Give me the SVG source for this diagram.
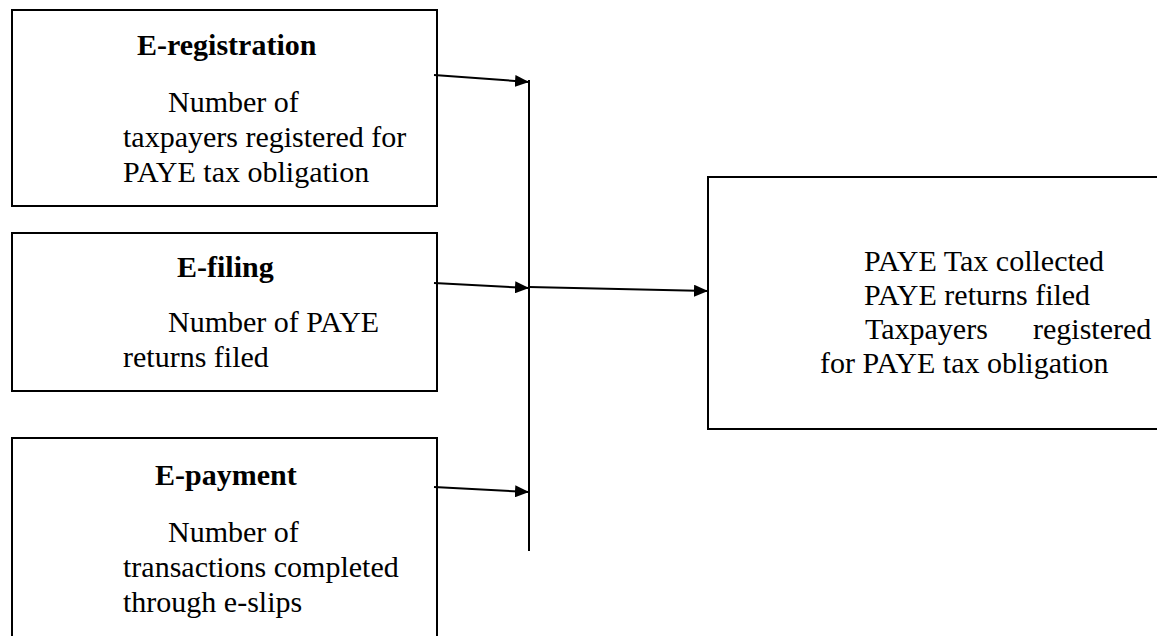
<svg xmlns="http://www.w3.org/2000/svg" width="1157" height="636" viewBox="0 0 1157 636">
<defs>
<marker id="ah" markerWidth="14" markerHeight="12" refX="14" refY="6" orient="auto" markerUnits="userSpaceOnUse">
<path d="M0,0 L14,6 L0,12 Z" fill="#000"/>
</marker>
<style>
.box{fill:#fff;stroke:#000;stroke-width:2}
.t{font-family:"Liberation Serif","Times New Roman",serif;font-size:30px;fill:#000}
.b{font-weight:bold}
.c{stroke:#000;stroke-width:2;fill:none}
</style>
</defs>
<rect width="1157" height="636" fill="#fff"/>
<g id="n-ereg">
<rect class="box" x="12" y="10" width="425" height="196"/>
<text class="t b" x="137" y="55">E-registration</text>
<text class="t" x="168" y="112">Number of</text>
<text class="t" x="123" y="147">taxpayers registered for</text>
<text class="t" x="123" y="182">PAYE tax obligation</text>
</g>
<g id="n-efil">
<rect class="box" x="12" y="233" width="425" height="158"/>
<text class="t b" x="177" y="277">E-filing</text>
<text class="t" x="168" y="332">Number of PAYE</text>
<text class="t" x="123" y="367">returns filed</text>
</g>
<g id="n-epay">
<rect class="box" x="12" y="438" width="425" height="210"/>
<text class="t b" x="155" y="485">E-payment</text>
<text class="t" x="168" y="542">Number of</text>
<text class="t" x="123" y="577">transactions completed</text>
<text class="t" x="123" y="612">through e-slips</text>
</g>
<g id="n-out">
<rect class="box" x="708" y="177" width="460" height="252"/>
<text class="t" x="864" y="271">PAYE Tax collected</text>
<text class="t" x="864" y="305">PAYE returns filed</text>
<text class="t" x="865" y="339">Taxpayers</text>
<text class="t" x="1033" y="339">registered</text>
<text class="t" x="820" y="373">for PAYE tax obligation</text>
</g>
<g id="connectors">
<line class="c" x1="529" y1="80" x2="529" y2="551"/>
<line class="c" x1="434" y1="75" x2="529" y2="82" marker-end="url(#ah)"/>
<line class="c" x1="434" y1="283" x2="529" y2="288" marker-end="url(#ah)"/>
<line class="c" x1="434" y1="487" x2="529" y2="492" marker-end="url(#ah)"/>
<line class="c" x1="529" y1="287" x2="708" y2="291" marker-end="url(#ah)"/>
</g>
</svg>
